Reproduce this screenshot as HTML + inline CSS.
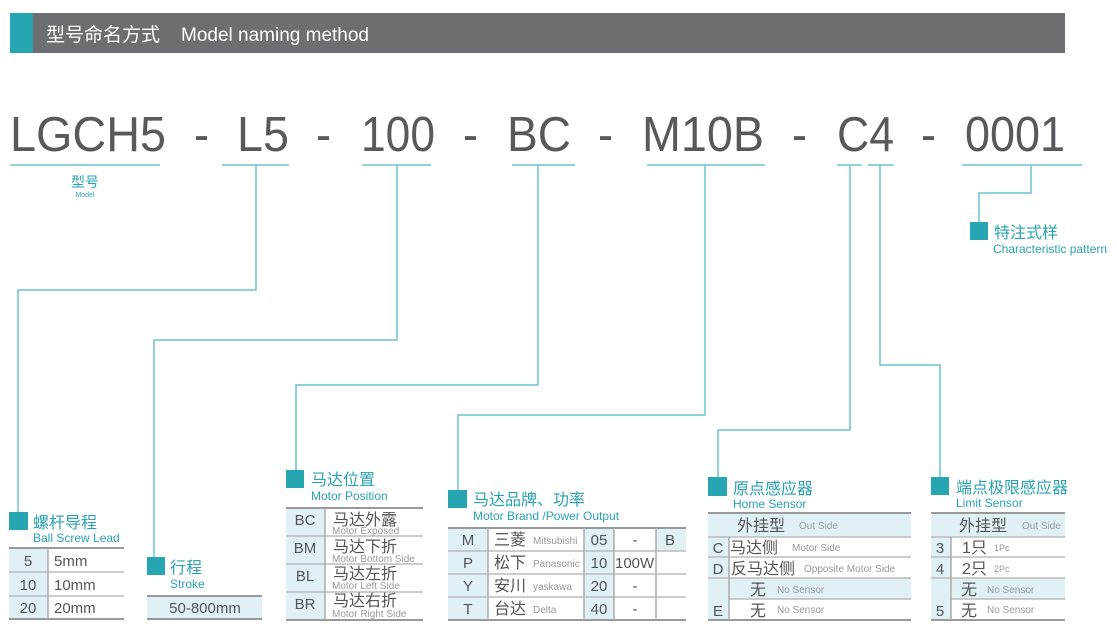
<!DOCTYPE html>
<html><head><meta charset="utf-8"><style>
html,body{margin:0;padding:0;background:#fff;width:1117px;height:632px;overflow:hidden}
svg{display:block;font-family:"Liberation Sans","Noto Sans CJK SC",sans-serif}
.big{font-size:49px;fill:#58595b}
.t{fill:#2aa3b0}
.cn{font-size:16px}
.en{font-size:12px}
.c{font-size:15px;fill:#555}
.s{font-size:10px;fill:#999}
.ln{stroke:#6cc4ce;stroke-width:1.5;fill:none}
.bg{fill:#e0f1f6}
.h{stroke:#999;stroke-width:2}
.r{stroke:#bbb;stroke-width:1.5}
.v{stroke:#aaa;stroke-width:1.5}
</style></head><body>
<svg width="1117" height="632" viewBox="0 0 1117 632">
<!-- header -->
<rect x="10" y="13" width="1055" height="40" fill="#6d6e71"/>
<rect x="10" y="13" width="23" height="40" fill="#27a6b2"/>
<text x="46" y="41" font-size="19" fill="#fff">型号命名方式</text>
<text x="181" y="41" font-size="19" fill="#fff">Model naming method</text>

<!-- big code -->
<text class="big" x="10" y="151" textLength="156" lengthAdjust="spacingAndGlyphs">LGCH5</text>
<text class="big" x="194" y="151" textLength="15" lengthAdjust="spacingAndGlyphs">-</text>
<text class="big" x="237" y="151" textLength="52" lengthAdjust="spacingAndGlyphs">L5</text>
<text class="big" x="316" y="151" textLength="15" lengthAdjust="spacingAndGlyphs">-</text>
<text class="big" x="361" y="151" textLength="74" lengthAdjust="spacingAndGlyphs">100</text>
<text class="big" x="463" y="151" textLength="15" lengthAdjust="spacingAndGlyphs">-</text>
<text class="big" x="507" y="151" textLength="64" lengthAdjust="spacingAndGlyphs">BC</text>
<text class="big" x="598" y="151" textLength="15" lengthAdjust="spacingAndGlyphs">-</text>
<text class="big" x="642" y="151" textLength="122" lengthAdjust="spacingAndGlyphs">M10B</text>
<text class="big" x="792" y="151" textLength="15" lengthAdjust="spacingAndGlyphs">-</text>
<text class="big" x="837" y="151" textLength="57" lengthAdjust="spacingAndGlyphs">C4</text>
<text class="big" x="921" y="151" textLength="15" lengthAdjust="spacingAndGlyphs">-</text>
<text class="big" x="965" y="151" textLength="100" lengthAdjust="spacingAndGlyphs">0001</text>

<!-- underlines -->
<g class="ln">
<line x1="10" y1="165" x2="160" y2="165"/>
<line x1="222" y1="165" x2="289" y2="165"/>
<line x1="362" y1="165" x2="431" y2="165"/>
<line x1="512" y1="165" x2="575" y2="165"/>
<line x1="647" y1="165" x2="765" y2="165"/>
<line x1="837" y1="165" x2="862" y2="165"/>
<line x1="868" y1="165" x2="894" y2="165"/>
<line x1="962" y1="165" x2="1082" y2="165"/>
<polyline points="256,165 256,290 18,290 18,512"/>
<polyline points="397,165 397,340 154,340 154,557"/>
<polyline points="538,165 538,385 296,385 296,470"/>
<polyline points="705,165 705,415 458,415 458,490"/>
<polyline points="850,165 850,430 718,430 718,477"/>
<polyline points="880,165 880,365 940,365 940,477"/>
<polyline points="1031,165 1031,193 979,193 979,222"/>
</g>
<text class="t" x="85" y="187" font-size="14" text-anchor="middle">型号</text>
<text class="t" x="85" y="197" font-size="7" text-anchor="middle">Model</text>

<!-- characteristic -->
<rect x="970" y="222" width="18" height="18" fill="#27a6b2"/>
<text class="t cn" x="994" y="238">特注式样</text>
<text class="t en" x="993" y="253">Characteristic pattern</text>

<!-- Ball screw lead -->
<rect x="9" y="512" width="19" height="18" fill="#27a6b2"/>
<text class="t cn" x="33" y="528">螺杆导程</text>
<text class="t en" x="33" y="542">Ball Screw Lead</text>
<rect class="bg" x="9" y="548" width="39" height="71"/>
<line class="h" x1="9" y1="548" x2="124" y2="548"/>
<line class="r" x1="9" y1="572" x2="124" y2="572"/>
<line class="r" x1="9" y1="596" x2="124" y2="596"/>
<line class="h" x1="9" y1="619" x2="124" y2="619"/>
<line class="v" x1="48" y1="548" x2="48" y2="619"/>
<g class="c"><text x="28" y="566" text-anchor="middle">5</text><text x="54" y="566">5mm</text>
<text x="28" y="590" text-anchor="middle">10</text><text x="54" y="590">10mm</text>
<text x="28" y="613" text-anchor="middle">20</text><text x="54" y="613">20mm</text></g>

<!-- Stroke -->
<rect x="147" y="557" width="18" height="18" fill="#27a6b2"/>
<text class="t cn" x="170" y="573">行程</text>
<text class="t en" x="170" y="588">Stroke</text>
<rect class="bg" x="147" y="596" width="115" height="23"/>
<line class="h" x1="147" y1="596" x2="262" y2="596"/>
<line class="h" x1="147" y1="619" x2="262" y2="619"/>
<text class="c" x="205" y="613" text-anchor="middle">50-800mm</text>

<!-- Motor position -->
<rect x="286" y="470" width="18" height="18" fill="#27a6b2"/>
<text class="t cn" x="311" y="485">马达位置</text>
<text class="t en" x="311" y="500">Motor Position</text>
<rect class="bg" x="286" y="508" width="39" height="112"/>
<line class="h" x1="286" y1="508" x2="423" y2="508"/>
<line class="r" x1="286" y1="536" x2="423" y2="536"/>
<line class="r" x1="286" y1="564" x2="423" y2="564"/>
<line class="r" x1="286" y1="592" x2="423" y2="592"/>
<line class="h" x1="286" y1="620" x2="423" y2="620"/>
<line class="v" x1="325" y1="508" x2="325" y2="620"/>
<g class="c">
<text x="305" y="525" text-anchor="middle">BC</text><text x="333" y="525" font-size="16">马达外露</text>
<text x="305" y="553" text-anchor="middle">BM</text><text x="333" y="552" font-size="16">马达下折</text>
<text x="305" y="581" text-anchor="middle">BL</text><text x="333" y="579" font-size="16">马达左折</text>
<text x="305" y="609" text-anchor="middle">BR</text><text x="333" y="606" font-size="16">马达右折</text></g>
<g class="s"><text x="332" y="534">Motor Exposed</text><text x="332" y="562">Motor Bottom  Side</text>
<text x="332" y="589">Motor Left Side</text><text x="332" y="617">Motor Right Side</text></g>

<!-- Motor brand -->
<rect x="448" y="490" width="19" height="18" fill="#27a6b2"/>
<text class="t cn" x="473" y="505">马达品牌、功率</text>
<text class="t en" x="473" y="520">Motor Brand /Power Output</text>
<rect class="bg" x="448" y="528" width="40" height="92"/>
<rect class="bg" x="584" y="528" width="30" height="92"/>
<rect class="bg" x="656" y="528" width="30" height="23"/>
<line class="h" x1="448" y1="528" x2="686" y2="528"/>
<line class="r" x1="448" y1="551" x2="686" y2="551"/>
<line class="r" x1="448" y1="574" x2="686" y2="574"/>
<line class="r" x1="448" y1="597" x2="686" y2="597"/>
<line class="h" x1="448" y1="620" x2="686" y2="620"/>
<line class="v" x1="488" y1="528" x2="488" y2="620"/>
<line class="v" x1="584" y1="528" x2="584" y2="620"/>
<line class="v" x1="614" y1="528" x2="614" y2="620"/>
<line class="v" x1="656" y1="528" x2="656" y2="620"/>
<g class="c">
<text x="468" y="545" text-anchor="middle">M</text><text x="494" y="545" font-size="16">三菱</text><text x="599" y="545" text-anchor="middle">05</text><text x="635" y="545" text-anchor="middle">-</text><text x="670" y="545" text-anchor="middle">B</text>
<text x="468" y="568" text-anchor="middle">P</text><text x="494" y="568" font-size="16">松下</text><text x="599" y="568" text-anchor="middle">10</text><text x="615" y="568">100W</text>
<text x="468" y="591" text-anchor="middle">Y</text><text x="494" y="591" font-size="16">安川</text><text x="599" y="591" text-anchor="middle">20</text><text x="635" y="591" text-anchor="middle">-</text>
<text x="468" y="614" text-anchor="middle">T</text><text x="494" y="614" font-size="16">台达</text><text x="599" y="614" text-anchor="middle">40</text><text x="635" y="614" text-anchor="middle">-</text></g>
<g class="s"><text x="533" y="544">Mitsubishi</text><text x="533" y="567">Panasonic</text><text x="533" y="590">yaskawa</text><text x="533" y="613">Delta</text></g>

<!-- Home sensor -->
<rect x="708" y="477" width="19" height="19" fill="#27a6b2"/>
<text class="t cn" x="733" y="494">原点感应器</text>
<text class="t en" x="733" y="508">Home Sensor</text>
<rect class="bg" x="708" y="513" width="203" height="24"/>
<rect class="bg" x="708" y="537" width="21" height="83"/>
<rect class="bg" x="729" y="578" width="182" height="21"/>
<line class="h" x1="708" y1="513" x2="911" y2="513"/>
<line class="r" x1="708" y1="537" x2="911" y2="537"/>
<line class="r" x1="708" y1="557" x2="911" y2="557"/>
<line class="r" x1="708" y1="578" x2="911" y2="578"/>
<line class="r" x1="729" y1="599" x2="911" y2="599"/>
<line class="h" x1="708" y1="620" x2="911" y2="620"/>
<line class="v" x1="729" y1="537" x2="729" y2="620"/>
<g class="c"><text x="737" y="531" font-size="16">外挂型</text>
<text x="718" y="553" text-anchor="middle">C</text><text x="730" y="553" font-size="16">马达侧</text>
<text x="718" y="574" text-anchor="middle">D</text><text x="731" y="574" font-size="16">反马达侧</text>
<text x="750" y="595" font-size="16">无</text>
<text x="718" y="616" text-anchor="middle">E</text><text x="750" y="616" font-size="16">无</text></g>
<g class="s"><text x="799" y="529">Out Side</text><text x="792" y="551">Motor Side</text><text x="804" y="572">Opposite Motor Side</text>
<text x="777" y="593">No Sensor</text><text x="777" y="613">No Sensor</text></g>

<!-- Limit sensor -->
<rect x="931" y="477" width="18" height="18" fill="#27a6b2"/>
<text class="t cn" x="956" y="493">端点极限感应器</text>
<text class="t en" x="956" y="507">Limit Sensor</text>
<rect class="bg" x="931" y="513" width="134" height="24"/>
<rect class="bg" x="931" y="537" width="20" height="83"/>
<rect class="bg" x="951" y="578" width="114" height="21"/>
<line class="h" x1="931" y1="513" x2="1065" y2="513"/>
<line class="r" x1="931" y1="537" x2="1065" y2="537"/>
<line class="r" x1="931" y1="557" x2="1065" y2="557"/>
<line class="r" x1="931" y1="578" x2="1065" y2="578"/>
<line class="r" x1="951" y1="599" x2="1065" y2="599"/>
<line class="h" x1="931" y1="620" x2="1065" y2="620"/>
<line class="v" x1="951" y1="537" x2="951" y2="620"/>
<g class="c"><text x="959" y="531" font-size="16">外挂型</text>
<text x="940" y="553" text-anchor="middle">3</text><text x="962" y="553" font-size="16">1只</text>
<text x="940" y="574" text-anchor="middle">4</text><text x="962" y="574" font-size="16">2只</text>
<text x="961" y="595" font-size="16">无</text>
<text x="940" y="616" text-anchor="middle">5</text><text x="961" y="616" font-size="16">无</text></g>
<g class="s"><text x="1022" y="529">Out Side</text><text x="994" y="551" font-size="9">1Pc</text><text x="994" y="572" font-size="9">2Pc</text>
<text x="987" y="593">No Sensor</text><text x="987" y="613">No Sensor</text></g>
</svg>
</body></html>
